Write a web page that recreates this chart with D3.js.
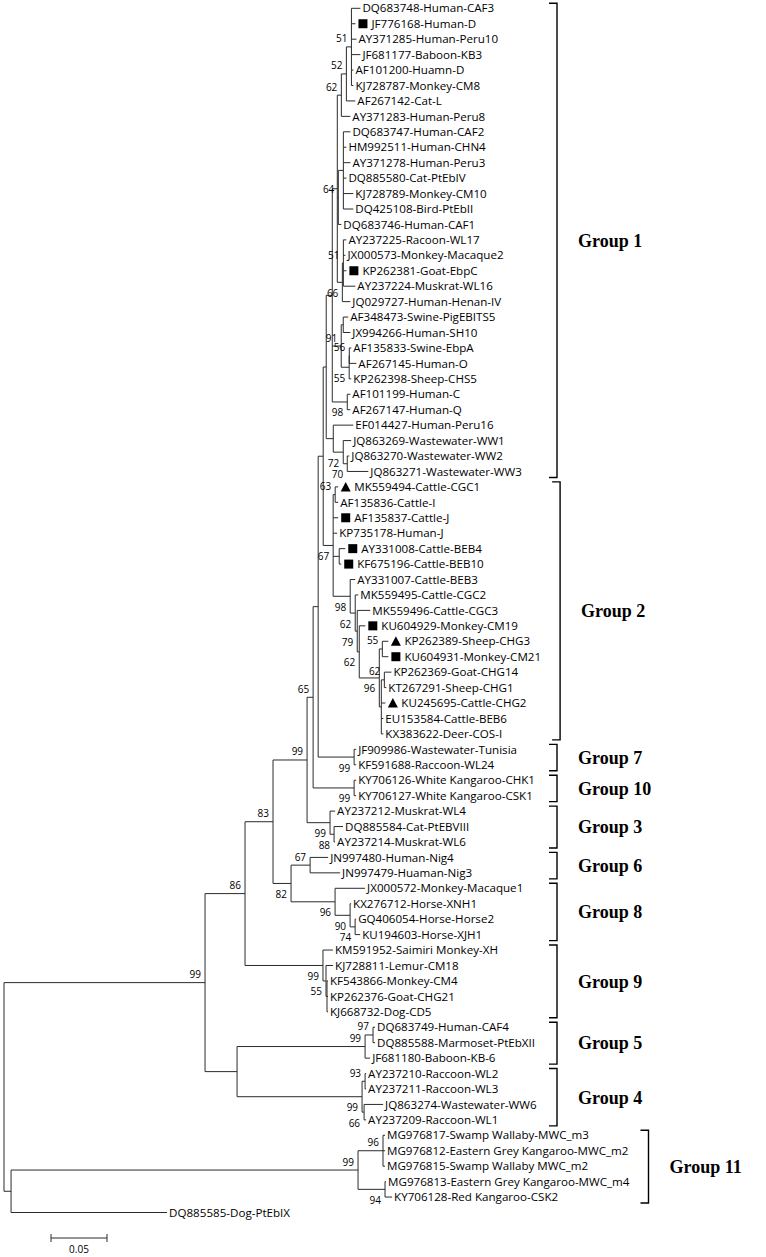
<!DOCTYPE html>
<html>
<head>
<meta charset="utf-8">
<script src="https://cdn.jsdelivr.net/npm/d3@7"></script>
<style>
  html, body { margin: 0; padding: 0; background: #fff; }
  svg { display: block; }
</style>
</head>
<body>
<svg id="chart" width="766" height="1257"></svg>
<script>
// ---------------- DATA ----------------
// Tree topology, bootstrap support (internal labels) and branch lengths (substitutions/site)
const newick = `(
((((((((((((((DQ683748-Human-CAF3:0.0080,JF776168-Human-D:0.0036,AY371285-Human-Peru10:0.0045,JF681177-Baboon-KB3:0.0080,AF101200-Huamn-D:0.0018,KJ728787-Monkey-CM8:0.0018)51:0.0045,
AF267142-Cat-L:0.0080)52:0.0045,
AY371283-Human-Peru8:0.0080)62:0.0036,
((DQ683747-Human-CAF2:0.0063,HM992511-Human-CHN4:0.0027,AY371278-Human-Peru3:0.0063,DQ885580-Cat-PtEbIV:0.0027,KJ728789-Monkey-CM10:0.0089,DQ425108-Bird-PtEbII:0.0089):0.0045,
DQ683746-Human-CAF1:0.0027)64:0.0009,
((AY237225-Racoon-WL17:0.0027,JX000573-Monkey-Macaque2:0.0018,KP262381-Goat-EbpC:0.0027,AY237224-Muskrat-WL16:0.0107)51:0.0009,
JQ029727-Human-Henan-IV:0.0071)66:0.0045):0.0045,
((AF348473-Swine-PigEBITS5:0.0045,JX994266-Human-SH10:0.0063):0.0018,
((AF135833-Swine-EbpA:0.0018,AF267145-Human-O:0.0063)56:0.0001,KP262398-Sheep-CHS5:0.0018)55:0.0071)91:0.0080,
(AF101199-Human-C:0.0027,AF267147-Human-Q:0.0027)98:0.0134):0.0054,
(EF014427-Human-Peru16:0.0179,
(JQ863269-Wastewater-WW1:0.0071,(JQ863270-Wastewater-WW2:0.0018,JQ863271-Wastewater-WW3:0.0188)70:0.0036)72:0.0089):0.0063):0.0027,
((MK559494-Cattle-CGC1:0.0027,AF135836-Cattle-I:0.0027)63:0.0018,
AF135837-Cattle-J:0.0045,
KP735178-Human-J:0.0036,
(AY331008-Cattle-BEB4:0.0054,KF675196-Cattle-BEB10:0.0018):0.0054,
(AY331007-Cattle-BEB3:0.0045,
(MK559495-Cattle-CGC2:0.0027,
(MK559496-Cattle-CGC3:0.0116,
(KU604929-Monkey-CM19:0.0054,
((KP262389-Sheep-CHG3:0.0054,KU604931-Monkey-CM21:0.0054)55:0.0027,
((KP262369-Goat-CHG14:0.0063,KT267291-Sheep-CHG1:0.0018)62:0.0027,KU245695-Cattle-CHG2:0.0036,EU153584-Cattle-BEB6:0.0018,KX383622-Deer-COS-I:0.0018):0.0018)96:0.0179)62:0.0018)79:0.0018)62:0.0045)98:0.0152)67:0.0089):0.0045,
(JF909986-Wastewater-Tunisia:0.0018,KF591688-Raccoon-WL24:0.0018)99:0.0321):0.0045,
(KY706126-White Kangaroo-CHK1:0.0018,KY706127-White Kangaroo-CSK1:0.0018)99:0.0366)65:0.0054,
(AY237212-Muskrat-WL4:0.0045,(DQ885584-Cat-PtEBVIII:0.0080,AY237214-Muskrat-WL6:0.0009)88:0.0036)99:0.0205)99:0.0304,
((JN997480-Human-Nig4:0.0161,JN997479-Huaman-Nig3:0.0268)67:0.0170,
(JX000572-Monkey-Macaque1:0.0268,(KX276712-Horse-XNH1:0.0009,(GQ406054-Horse-Horse2:0.0009,KU194603-Horse-XJH1:0.0045)74:0.0045)90:0.0134)96:0.0393)82:0.0161)83:0.0250,
(KM591952-Saimiri Monkey-XH:0.0089,(KJ728811-Lemur-CM18:0.0063,(KF543866-Monkey-CM4:0.0009,KP262376-Goat-CHG21:0.0009,KJ668732-Dog-CD5:0.0009):0.0009)55:0.0027)99:0.0696)86:0.0357,
(((DQ683749-Human-CAF4:0.0018,DQ885588-Marmoset-PtEbXII:0.0018)97:0.0071,JF681180-Baboon-KB-6:0.0045)99:0.1143,
((AY237210-Raccoon-WL2:0.0009,AY237211-Raccoon-WL3:0.0009)93:0.0027,(JQ863274-Wastewater-WW6:0.0170,AY237209-Raccoon-WL1:0.0018)66:0.0018)99:0.1116):0.0286)99:0.1795,
(((MG976817-Swamp Wallaby-MWC_m3:0.0018,MG976812-Eastern Grey Kangaroo-MWC_m2:0.0018,MG976815-Swamp Wallaby MWC_m2:0.0018)96:0.0223,
(MG976813-Eastern Grey Kangaroo-MWC_m4:0.0009,KY706128-Red Kangaroo-CSK2:0.0063)94:0.0241)99:0.3098,
DQ885585-Dog-PtEbIX:0.1393):0.0063);`;

const squareLeaves = ["JF776168-Human-D", "KP262381-Goat-EbpC", "AF135837-Cattle-J",
  "AY331008-Cattle-BEB4", "KF675196-Cattle-BEB10", "KU604929-Monkey-CM19", "KU604931-Monkey-CM21"];
const triangleLeaves = ["MK559494-Cattle-CGC1", "KP262389-Sheep-CHG3", "KU245695-Cattle-CHG2"];

const groupNames = ["Group 1", "Group 2", "Group 7", "Group 10", "Group 3", "Group 6",
  "Group 8", "Group 9", "Group 5", "Group 4", "Group 11"];
const groupFirst = ["DQ683748-Human-CAF3", "MK559494-Cattle-CGC1", "JF909986-Wastewater-Tunisia",
  "KY706126-White Kangaroo-CHK1", "AY237212-Muskrat-WL4", "JN997480-Human-Nig4",
  "JX000572-Monkey-Macaque1", "KM591952-Saimiri Monkey-XH", "DQ683749-Human-CAF4",
  "AY237210-Raccoon-WL2", "MG976817-Swamp Wallaby-MWC_m3"];
const groupLast = ["JQ863271-Wastewater-WW3", "KX383622-Deer-COS-I", "KF591688-Raccoon-WL24",
  "KY706127-White Kangaroo-CSK1", "AY237214-Muskrat-WL6", "JN997479-Huaman-Nig3",
  "KU194603-Horse-XJH1", "KJ668732-Dog-CD5", "JF681180-Baboon-KB-6",
  "AY237209-Raccoon-WL1", "KY706128-Red Kangaroo-CSK2"];

const scaleBarValue = 0.05;

// ---------------- PARSE ----------------
function parseNewick(str) {
  const s = str.replace(/\n\s*/g, "");
  let i = 0;
  function node() {
    const n = {};
    if (s[i] === "(") {
      n.children = [];
      i++;
      n.children.push(node());
      while (s[i] === ",") { i++; n.children.push(node()); }
      i++; // ')'
    }
    let name = "";
    while (i < s.length && !"(),:;".includes(s[i])) name += s[i++];
    n.name = name.trim();
    n.length = 0;
    if (s[i] === ":") {
      i++;
      let num = "";
      while (i < s.length && !"(),;".includes(s[i])) num += s[i++];
      n.length = +num;
    }
    return n;
  }
  return node();
}

const root = d3.hierarchy(parseNewick(newick), d => d.children);
root.eachBefore(n => { n.dist = n.parent ? n.parent.dist + n.data.length : 0; });
const leaves = root.leaves();

// ---------------- SCALES ----------------
const x = d3.scaleLinear().domain([0, scaleBarValue]).range([4, 60]);
const y = d3.scaleLinear().domain([0, leaves.length - 1]).range([8.3, 1212.5]);

leaves.forEach((l, i) => { l.idx = i; });
root.eachAfter(n => {
  n.px = x(n.dist);
  if (!n.children) n.py = y(n.idx);
  else n.py = (n.children[0].py + n.children[n.children.length - 1].py) / 2;
});

const svg = d3.select("#chart");
svg.append("rect").attr("width", 766).attr("height", 1257).attr("fill", "#fff");

const lineColor = "#2b2b2b";
const gLines = svg.append("g").attr("stroke", lineColor).attr("stroke-width", 1).attr("fill", "none");

const internals = root.descendants().filter(n => n.children);
// vertical connectors
gLines.selectAll("line.v").data(internals).join("line")
  .attr("class", "v")
  .attr("x1", d => d.px).attr("x2", d => d.px)
  .attr("y1", d => d.children[0].py).attr("y2", d => d.children[d.children.length - 1].py);
// horizontal branches
gLines.selectAll("line.h").data(root.descendants().filter(n => n.parent)).join("line")
  .attr("class", "h")
  .attr("x1", d => d.parent.px).attr("x2", d => d.px)
  .attr("y1", d => d.py).attr("y2", d => d.py);

// ---------------- LEAF LABELS & MARKERS ----------------
const leafFont = "'Open Sans', 'DejaVu Sans', sans-serif";
const gLeaf = svg.append("g");
const markerOf = name => squareLeaves.includes(name) ? "square" : (triangleLeaves.includes(name) ? "triangle" : null);

gLeaf.selectAll("rect.mk").data(leaves.filter(l => markerOf(l.data.name) === "square")).join("rect")
  .attr("class", "mk")
  .attr("x", d => d.px + 3).attr("y", d => d.py - 4.5)
  .attr("width", 9).attr("height", 9).attr("fill", "#000");
gLeaf.selectAll("path.mk").data(leaves.filter(l => markerOf(l.data.name) === "triangle")).join("path")
  .attr("class", "mk")
  .attr("d", d => `M${d.px + 2.5},${d.py + 4.5} L${d.px + 12.5},${d.py + 4.5} L${d.px + 7.5},${d.py - 5} Z`)
  .attr("fill", "#000");

const leafText = gLeaf.selectAll("text").data(leaves).join("text")
  .attr("x", d => d.px + (markerOf(d.data.name) ? 16 : 2))
  .attr("y", d => d.py)
  .attr("dy", "0.36em")
  .attr("font-family", leafFont)
  .attr("font-size", 11.6)
  .attr("fill", "#000")
  .text(d => d.data.name);

const textEnd = {};
leafText.each(function(d) { textEnd[d.data.name] = +this.getAttribute("x") + this.getComputedTextLength(); });

// ---------------- BOOTSTRAP VALUES ----------------
const supported = internals.filter(n => n.parent && n.data.name !== "");
svg.append("g").selectAll("text").data(supported).join("text")
  .attr("x", d => d.px - 4)
  .attr("y", d => {
    const p = d.parent;
    const isLast = p.children.length > 1 && p.children[p.children.length - 1] === d;
    return isLast ? d.py + 14.5 : d.py - 4.5;
  })
  .attr("text-anchor", "end")
  .attr("font-family", leafFont)
  .attr("font-size", 10)
  .attr("fill", "#000")
  .text(d => d.data.name);

// ---------------- GROUP BRACKETS ----------------
const leafByName = new Map(leaves.map(l => [l.data.name, l]));
const groups = groupNames.map((g, i) => {
  const first = leafByName.get(groupFirst[i]);
  const last = leafByName.get(groupLast[i]);
  const members = leaves.slice(first.idx, last.idx + 1);
  const maxEnd = d3.max(members, m => textEnd[m.data.name]);
  return { name: g, top: first.py - 5, bottom: last.py + 6, maxEnd };
});
const baseBracketX = 557;
groups.forEach(g => { g.bx = Math.max(baseBracketX, g.maxEnd + 19); });

const gBr = svg.append("g");
gBr.selectAll("path").data(groups).join("path")
  .attr("d", g => `M${g.bx - 8},${g.top} H${g.bx} V${g.bottom} H${g.bx - 8}`)
  .attr("fill", "none").attr("stroke", "#000").attr("stroke-width", 1.4);
gBr.selectAll("text").data(groups).join("text")
  .attr("x", g => g.bx + 21)
  .attr("y", g => (g.top + g.bottom) / 2)
  .attr("dy", "0.35em")
  .attr("font-family", "'Liberation Serif', 'Times New Roman', serif")
  .attr("font-weight", "bold")
  .attr("font-size", 18)
  .attr("fill", "#000")
  .text(g => g.name);

// ---------------- SCALE BAR ----------------
const barX0 = 51, barY = 1238;
const barLen = x(scaleBarValue) - x(0);
const gSb = svg.append("g").attr("stroke", lineColor).attr("stroke-width", 1);
gSb.append("line").attr("x1", barX0).attr("x2", barX0 + barLen).attr("y1", barY).attr("y2", barY);
gSb.append("line").attr("x1", barX0).attr("x2", barX0).attr("y1", barY - 4).attr("y2", barY + 4);
gSb.append("line").attr("x1", barX0 + barLen).attr("x2", barX0 + barLen).attr("y1", barY - 4).attr("y2", barY + 4);
svg.append("text")
  .attr("x", barX0 + barLen / 2).attr("y", barY + 15)
  .attr("text-anchor", "middle")
  .attr("font-family", leafFont).attr("font-size", 10).attr("fill", "#000")
  .text(scaleBarValue.toFixed(2));
</script>
</body>
</html>
